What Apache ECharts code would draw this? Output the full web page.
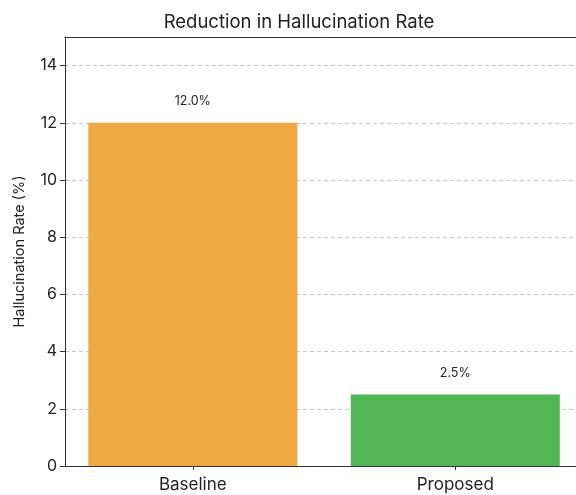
<!DOCTYPE html>
<html><head><meta charset="utf-8">
<script src="https://cdn.jsdelivr.net/npm/echarts@6/dist/echarts.min.js"></script>
<style>html,body{margin:0;padding:0;background:#fff}#c{width:576px;height:495px}</style>
</head><body><div id="c"></div>
<script>
const categories = ['Baseline', 'Proposed'];
const values = [12.0, 2.5];
const barColors = ['#EEA942', '#50B752'];
const yTicks = [0, 2, 4, 6, 8, 10, 12, 14];
const titleText = 'Reduction in Hallucination Rate';
const yName = 'Hallucination Rate (%)';

const FONT = 'Inter';
const chart = echarts.init(document.getElementById('c'), null, {renderer: 'canvas'});
const idx = categories.map((c, i) => i);
chart.setOption({
  animation: false,
  backgroundColor: '#fff',
  title: {
    text: titleText, left: 294, top: 8, textAlign: 'center',
    textStyle: {fontFamily: FONT, fontSize: 18.5, fontWeight: 'normal', color: '#222'}
  },
  grid: {left: 65, top: 37, right: 0, bottom: 29},
  xAxis: [{
    type: 'value', min: -0.487, max: 1.46,
    splitLine: {show: false},
    axisLine: {show: true, onZero: false, lineStyle: {color: '#333', width: 1}},
    axisTick: {show: true, customValues: idx, length: 4, lineStyle: {color: '#333'}},
    axisLabel: {customValues: idx, formatter: v => categories[Math.round(v)] || '',
      fontFamily: FONT, fontSize: 17, color: '#222', margin: 10}
  }, {
    type: 'value', position: 'top', min: -0.487, max: 1.46,
    splitLine: {show: false},
    axisLine: {show: true, onZero: false, lineStyle: {color: '#333', width: 1}},
    axisTick: {show: false}, axisLabel: {show: false}
  }],
  yAxis: {
    type: 'value', min: 0, max: 15, interval: 2,
    name: yName, nameLocation: 'middle', nameGap: 38, nameRotate: 90,
    nameTextStyle: {fontFamily: FONT, fontSize: 14.5, color: '#222'},
    axisLine: {show: true, onZero: false, lineStyle: {color: '#333', width: 1}},
    axisTick: {show: true, customValues: yTicks, length: 5, lineStyle: {color: '#333'}},
    axisLabel: {customValues: yTicks, fontFamily: FONT, fontSize: 16, color: '#222', margin: 8},
    splitLine: {show: true, lineStyle: {color: '#c8c8c8', type: [4, 3], width: 1}}
  },
  series: [{
    type: 'bar',
    xAxisIndex: 0,
    barWidth: 209,
    data: values.map((v, i) => ({value: [i, v], itemStyle: {color: barColors[i]}})),
    label: {show: true, position: 'top', distance: 15, fontFamily: FONT, fontSize: 12.5, color: '#222',
      formatter: p => p.value[1].toFixed(1) + '%'}
  }]
});
</script></body></html>
